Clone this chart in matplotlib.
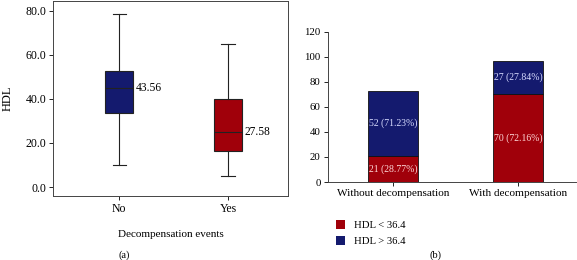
#!/usr/bin/env python3

import matplotlib
matplotlib.use('Agg')
import matplotlib.pyplot as plt
from matplotlib.patches import Patch

plt.rcParams['font.family'] = ['Liberation Serif', 'DejaVu Serif']
plt.rcParams['font.size'] = 8

NAVY = '#141a6e'
RED = '#a0000a'

# panel (a): HDL by decompensation events
groups = ['No', 'Yes']
q1 = [33.6, 16.5]
med = [44.9, 24.8]
q3 = [52.7, 40.0]
whislo = [10.1, 5.0]
whishi = [78.6, 65.0]
med_labels = ['43.56', '27.58']

# panel (b): counts by HDL class
cats = ['Without decompensation', 'With decompensation']
low = [21, 70]
high = [52, 27]
low_labels = ['21 (28.77%)', '70 (72.16%)']
high_labels = ['52 (71.23%)', '27 (27.84%)']

fig = plt.figure(figsize=(5.77, 2.60), dpi=100)

ax = fig.add_axes([0.092, 0.246, 0.407, 0.75])
stats = [dict(q1=q1[i], med=med[i], q3=q3[i], whislo=whislo[i], whishi=whishi[i])
         for i in range(2)]
bp = ax.bxp(stats, positions=[1, 2], widths=0.26, capwidths=0.12,
            showfliers=False, patch_artist=True)
for box, c in zip(bp['boxes'], [NAVY, RED]):
    box.set_facecolor(c)
    box.set_edgecolor('#222222')
    box.set_linewidth(0.8)
for k in ['whiskers', 'caps', 'medians']:
    for l in bp[k]:
        l.set_color('#222222')
        l.set_linewidth(0.8)
for i in range(2):
    ax.text(i + 1 + 0.15, med[i], med_labels[i], va='center', ha='left', fontsize=8.3)
ax.set_xlim(0.394, 2.55)
ax.set_ylim(-4.1, 84.5)
ax.set_yticks([0, 20, 40, 60, 80])
ax.set_yticklabels(['0.0', '20.0', '40.0', '60.0', '80.0'])
ax.set_xticks([1, 2])
ax.set_xticklabels(groups)
ax.set_ylabel('HDL', labelpad=8, fontsize=9)
ax.set_xlabel('Decompensation events', labelpad=11)
ax.tick_params(labelsize=8.5)
for s in ax.spines.values():
    s.set_color('#444444')
    s.set_linewidth(0.7)
ax.tick_params(length=3, width=0.6, pad=2)

bx = fig.add_axes([0.568, 0.30, 0.43, 0.577])
x = [0, 1]
bx.bar(x, low, width=0.4, color=RED, edgecolor='#111111', linewidth=0.6)
bx.bar(x, high, bottom=low, width=0.4, color=NAVY, edgecolor='#111111', linewidth=0.6)
for i in range(2):
    bx.text(i, low[i] / 2, low_labels[i], ha='center', va='center', color='#ffd8d8', fontsize=7)
    bx.text(i, low[i] + high[i] / 2, high_labels[i], ha='center', va='center',
            color='#d8dcff', fontsize=7)
bx.set_xlim(-0.52, 1.46)
bx.set_ylim(0, 120)
bx.set_yticks(range(0, 121, 20))
bx.set_xticks(x)
bx.set_xticklabels(cats, fontsize=8.1)
bx.tick_params(axis='y', labelsize=7.8)
bx.spines['top'].set_visible(False)
bx.spines['right'].set_visible(False)
for s in ['left', 'bottom']:
    bx.spines[s].set_color('#444444')
    bx.spines[s].set_linewidth(0.7)
bx.tick_params(length=3, width=0.6, pad=2)
handles = [Patch(facecolor=RED, edgecolor='none'), Patch(facecolor=NAVY, edgecolor='none')]
fig.legend(handles, ['HDL < 36.4', 'HDL > 36.4'], loc='upper left',
           bbox_to_anchor=(0.565, 0.19), frameon=False, fontsize=7.7,
           handlelength=0.9, handleheight=0.9, handletextpad=0.8, labelspacing=0.5)

fig.text(0.216, 0.01, '(a)', ha='center', fontsize=7.5)
fig.text(0.755, 0.01, '(b)', ha='center', fontsize=7.5)

fig.savefig('out.png', dpi=100)
